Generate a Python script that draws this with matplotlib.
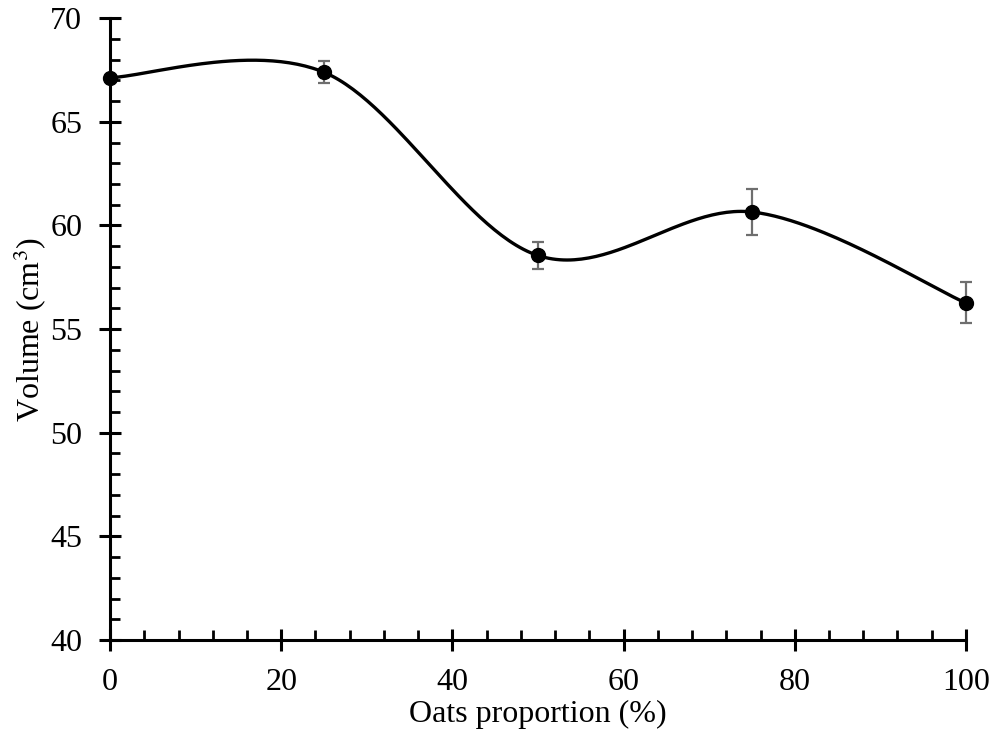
import numpy as np
import matplotlib
matplotlib.use("Agg")
from matplotlib import pyplot as plt
from matplotlib.ticker import MultipleLocator

oats = [0, 25, 50, 75, 100]
volume = [67.13, 67.39, 58.55, 60.65, 56.26]
err = [0.0, 0.52, 0.67, 1.12, 0.99]

plt.rcParams['font.family'] = ['Liberation Serif', 'DejaVu Serif']
plt.rcParams['mathtext.fontset'] = 'stix'


def smooth(xs, ys, n=60):
    # catmull-rom style bezier through the points (like a spreadsheet "smoothed line")
    xs = np.asarray(xs, float)
    ys = np.asarray(ys, float)
    px = np.concatenate([[xs[0]], xs, [xs[-1]]])
    py = np.concatenate([[ys[0]], ys, [ys[-1]]])
    outx, outy = [], []
    t = np.linspace(0, 1, n)
    for i in range(1, len(px) - 2):
        p0 = np.array([px[i], py[i]])
        p3 = np.array([px[i + 1], py[i + 1]])
        c1 = p0 + (np.array([px[i + 1], py[i + 1]]) - np.array([px[i - 1], py[i - 1]])) / 6
        c2 = p3 - (np.array([px[i + 2], py[i + 2]]) - np.array([px[i], py[i]])) / 6
        b = ((1 - t) ** 3)[:, None] * p0 + (3 * (1 - t) ** 2 * t)[:, None] * c1 \
            + (3 * (1 - t) * t ** 2)[:, None] * c2 + (t ** 3)[:, None] * p3
        outx.extend(b[:, 0])
        outy.extend(b[:, 1])
    return outx, outy


fig = plt.figure(figsize=(9.94, 7.42), dpi=100)
ax = fig.add_axes([0.1107, 0.1375, 0.8611, 0.838])

sx, sy = smooth(oats, volume)
ax.plot(sx, sy, color='black', lw=2.4, zorder=3, clip_on=False)
ax.errorbar(oats, volume, yerr=err, fmt='none', ecolor='#6e6e6e', elinewidth=1.6,
            capsize=4.5, capthick=1.6, zorder=2, clip_on=False)
ax.plot(oats, volume, 'o', color='black', ms=10, zorder=4, clip_on=False)

ax.set_xlim(0, 100)
ax.set_ylim(40, 70)
ax.xaxis.set_major_locator(MultipleLocator(20))
ax.xaxis.set_minor_locator(MultipleLocator(4))
ax.yaxis.set_major_locator(MultipleLocator(5))
ax.yaxis.set_minor_locator(MultipleLocator(1))

for s in ['top', 'right']:
    ax.spines[s].set_visible(False)
for s in ['left', 'bottom']:
    ax.spines[s].set_linewidth(2.2)

ax.tick_params(which='major', direction='inout', length=16, width=2.2, labelsize=23)
ax.tick_params(which='minor', direction='in', length=7, width=2.0)
ax.tick_params(axis='y', which='major', pad=12)
ax.tick_params(axis='x', which='major', pad=12)

ax.set_xlabel('Oats proportion (%)', fontsize=23, labelpad=2)
ax.set_ylabel('Volume (cm$^3$)', fontsize=23, labelpad=1)

fig.savefig('out.png', dpi=100)
